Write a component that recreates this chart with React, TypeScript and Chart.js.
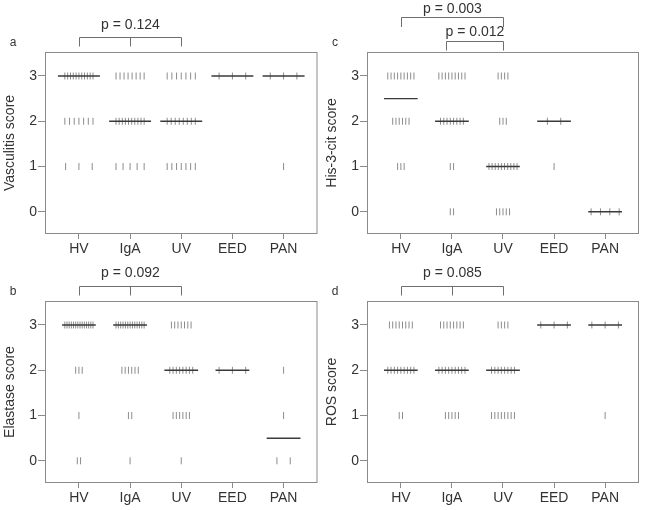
import React, { useEffect, useRef } from 'react';
import { Chart, registerables } from 'chart.js';

Chart.register(...registerables);

// ---------- data ----------
const categories = ['HV', 'IgA', 'UV', 'EED', 'PAN'];
const scoreLevels = [0, 1, 2, 3];

// number of subjects at score 0,1,2,3 for each group (HV, IgA, UV, EED, PAN)
const vasculitisCounts = [
  [0, 3, 7, 11],
  [0, 5, 10, 8],
  [0, 7, 8, 7],
  [0, 0, 0, 3],
  [0, 1, 0, 3],
];
const elastaseCounts = [
  [2, 1, 3, 14],
  [1, 2, 6, 13],
  [1, 6, 8, 7],
  [0, 0, 3, 0],
  [2, 1, 1, 0],
];
const his3citCounts = [
  [0, 3, 6, 9],
  [2, 2, 8, 9],
  [5, 10, 3, 4],
  [0, 1, 2, 0],
  [4, 0, 0, 0],
];
const rosCounts = [
  [0, 2, 9, 8],
  [0, 5, 9, 8],
  [0, 8, 8, 4],
  [0, 0, 0, 3],
  [0, 1, 0, 3],
];

const pValueA = ['p = 0.124'];
const pValueB = ['p = 0.092'];
const pValueC = ['p = 0.003', 'p = 0.012'];
const pValueD = ['p = 0.085'];

// ---------- style ----------
const FONT = '"Liberation Sans", Arial, Helvetica, sans-serif';
const TEXT = '#333333';
const FRAME = '#8a8a8a';
const TICK_GRAY = '#8c8c8c';
const MEDIAN = '#3a3a3a';
const BRACKET = '#6e6e6e';
const CLUSTER_WIDTH = 0.55;
const X_MIN = 0.337;
const X_MAX = 5.663;
const Y_MIN = -0.49;
const Y_MAX = 3.53;

function median(counts: number[]): number {
  const vals: number[] = [];
  counts.forEach((c, i) => {
    for (let k = 0; k < c; k++) vals.push(scoreLevels[i]);
  });
  vals.sort((a, b) => a - b);
  const n = vals.length;
  if (!n) return NaN;
  return n % 2 ? vals[(n - 1) / 2] : (vals[n / 2 - 1] + vals[n / 2]) / 2;
}

function stripPoints(counts: number[][], maxSteps: number[]) {
  const pts: { x: number; y: number }[] = [];
  counts.forEach((row, g) => {
    row.forEach((n, li) => {
      if (!n) return;
      const step = n > 1 ? Math.min(maxSteps[g], CLUSTER_WIDTH / (n - 1)) : 0;
      for (let i = 0; i < n; i++) {
        pts.push({ x: g + 1 + (i - (n - 1) / 2) * step, y: scoreLevels[li] });
      }
    });
  });
  return pts;
}

type Bracket = {
  legs: number[];
  text: string;
  textDy: number;
  barDy: number;
  legDy: number;
};

type Panel = {
  letter: string;
  title: string;
  counts: number[][];
  left: number;
  top: number;
  w: number;
  h: number;
  area: { l: number; t: number; r: number; b: number };
  maxSteps: number[];
  medHalf: number;
  brackets: Bracket[];
};

const WIDE = [0.26, 0.26, 0.26, 0.26, 0.26];
const PACKED = [0.064, 0.064, 0.064, 0.26, 0.26];

const panels: Panel[] = [
  {
    letter: 'a',
    title: 'Vasculitis score',
    counts: vasculitisCounts,
    left: 0,
    top: 0,
    w: 322,
    h: 262,
    area: { l: 45, t: 52, r: 318, b: 234 },
    maxSteps: WIDE,
    medHalf: 0.41,
    brackets: [{ legs: [1, 2, 3], text: pValueA[0], textDy: -23, barDy: -15.5, legDy: -5.5 }],
  },
  {
    letter: 'b',
    title: 'Elastase score',
    counts: elastaseCounts,
    left: 0,
    top: 250,
    w: 322,
    h: 260,
    area: { l: 45, t: 51, r: 318, b: 233 },
    maxSteps: PACKED,
    medHalf: 0.33,
    brackets: [{ legs: [1, 2, 3], text: pValueB[0], textDy: -24, barDy: -15.5, legDy: -5.5 }],
  },
  {
    letter: 'c',
    title: 'His-3-cit score',
    counts: his3citCounts,
    left: 322,
    top: 0,
    w: 323,
    h: 262,
    area: { l: 45, t: 52, r: 317, b: 234 },
    maxSteps: PACKED,
    medHalf: 0.33,
    brackets: [
      { legs: [1, 3], text: pValueC[0], textDy: -39, barDy: -35, legDy: -25 },
      { legs: [1.88, 3], text: pValueC[1], textDy: -16, barDy: -11.5, legDy: -1.5 },
    ],
  },
  {
    letter: 'd',
    title: 'ROS score',
    counts: rosCounts,
    left: 322,
    top: 250,
    w: 323,
    h: 260,
    area: { l: 45, t: 51, r: 317, b: 233 },
    maxSteps: PACKED,
    medHalf: 0.33,
    brackets: [{ legs: [1, 2, 3], text: pValueD[0], textDy: -24, barDy: -15.5, legDy: -5.5 }],
  },
];

const annoPlugin = {
  id: 'panelAnno',
  afterDraw(chart: any) {
    const cfg = chart.options.plugins.panelAnno as Panel;
    if (!cfg) return;
    const { ctx, chartArea } = chart;
    const { left, top, right, bottom } = chartArea;
    const xs = chart.scales.x;
    ctx.save();
    // frame
    ctx.strokeStyle = FRAME;
    ctx.lineWidth = 1;
    ctx.strokeRect(left + 0.5, top + 0.5, right - left - 1, bottom - top - 1);
    // panel letter
    ctx.fillStyle = TEXT;
    ctx.font = `12px ${FONT}`;
    ctx.textAlign = 'center';
    ctx.textBaseline = 'alphabetic';
    ctx.fillText(cfg.letter, 13, top - 6);
    // brackets
    cfg.brackets.forEach((b) => {
      const px = b.legs.map((v) => Math.round(xs.getPixelForValue(v)) + 0.5);
      const barY = Math.round(top + b.barDy) + 0.5;
      const legY = top + b.legDy;
      ctx.strokeStyle = BRACKET;
      ctx.lineWidth = 1;
      ctx.beginPath();
      ctx.moveTo(px[0], barY);
      ctx.lineTo(px[px.length - 1], barY);
      px.forEach((p) => {
        ctx.moveTo(p, barY);
        ctx.lineTo(p, legY);
      });
      ctx.stroke();
      ctx.fillStyle = TEXT;
      ctx.font = `14px ${FONT}`;
      ctx.textAlign = 'center';
      ctx.fillText(b.text, (px[0] + px[px.length - 1]) / 2, top + b.textDy);
    });
    ctx.restore();
  },
};

function PanelChart({ p }: { p: Panel }) {
  const ref = useRef<HTMLCanvasElement | null>(null);
  useEffect(() => {
    if (!ref.current) return;
    const medians = p.counts.map((c) => median(c));
    const medianSets = medians
      .map((m, g) =>
        isNaN(m)
          ? null
          : {
              type: 'line' as const,
              data: [
                { x: g + 1 - p.medHalf, y: m },
                { x: g + 1 + p.medHalf, y: m },
              ],
              borderColor: MEDIAN,
              borderWidth: 1.4,
              pointRadius: 0,
              fill: false,
              order: 0,
            }
      )
      .filter(Boolean) as any[];
    const chart = new Chart(ref.current, {
      type: 'scatter',
      data: {
        datasets: [
          {
            type: 'scatter',
            data: stripPoints(p.counts, p.maxSteps),
            pointStyle: 'line',
            rotation: 90,
            pointRadius: 3.5,
            pointHoverRadius: 3.5,
            borderColor: TICK_GRAY,
            backgroundColor: TICK_GRAY,
            borderWidth: 1,
            order: 1,
          } as any,
          ...medianSets,
        ],
      },
      options: {
        responsive: false,
        animation: false,
        devicePixelRatio: 1,
        layout: {
          padding: { left: p.area.l - 45, top: p.area.t, right: p.w - p.area.r, bottom: 0 },
        },
        plugins: {
          legend: { display: false },
          tooltip: { enabled: false },
          panelAnno: p,
        } as any,
        scales: {
          x: {
            type: 'linear',
            min: X_MIN,
            max: X_MAX,
            afterBuildTicks: (s: any) => {
              s.ticks = categories.map((_, i) => ({ value: i + 1 }));
            },
            afterFit: (s: any) => {
              s.height = p.h - p.area.b;
            },
            ticks: {
              callback: (_v: any, i: number) => categories[i],
              font: { family: FONT, size: 14 },
              color: TEXT,
              padding: 2,
              autoSkip: false,
              maxRotation: 0,
            },
            grid: { drawOnChartArea: false, drawTicks: true, tickLength: 5, color: FRAME },
            border: { display: false },
          },
          y: {
            type: 'linear',
            min: Y_MIN,
            max: Y_MAX,
            afterBuildTicks: (s: any) => {
              s.ticks = scoreLevels.map((v) => ({ value: v }));
            },
            afterFit: (s: any) => {
              s.width = 45;
            },
            ticks: {
              callback: (v: any) => String(v),
              font: { family: FONT, size: 14 },
              color: TEXT,
              padding: 1,
            },
            grid: { drawOnChartArea: false, drawTicks: true, tickLength: 7, color: FRAME },
            border: { display: false },
            title: {
              display: true,
              text: p.title,
              font: { family: FONT, size: 14 },
              color: TEXT,
              padding: { top: 2, bottom: 0 },
            },
          },
        },
      } as any,
      plugins: [annoPlugin],
    });
    return () => chart.destroy();
  }, [p]);
  return (
    <canvas
      ref={ref}
      width={p.w}
      height={p.h}
      style={{ position: 'absolute', left: p.left, top: p.top, width: p.w, height: p.h }}
    />
  );
}

export default function App() {
  return (
    <div
      style={{
        position: 'fixed',
        left: 0,
        top: 0,
        width: 645,
        height: 510,
        background: '#ffffff',
        overflow: 'hidden',
      }}
    >
      {panels.map((p) => (
        <PanelChart key={p.letter} p={p} />
      ))}
    </div>
  );
}
